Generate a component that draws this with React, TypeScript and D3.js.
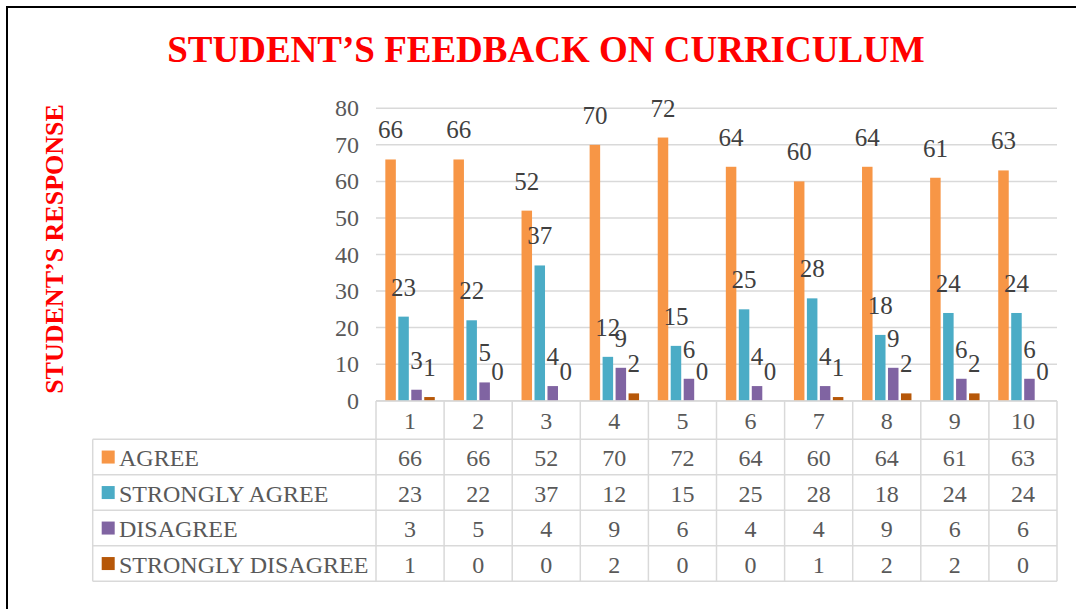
import React from "react";
import * as d3 from "d3";

const categories = ["1", "2", "3", "4", "5", "6", "7", "8", "9", "10"];
const seriesNames = ["AGREE", "STRONGLY AGREE", "DISAGREE", "STRONGLY DISAGREE"];
const agree = [66, 66, 52, 70, 72, 64, 60, 64, 61, 63];
const stronglyAgree = [23, 22, 37, 12, 15, 25, 28, 18, 24, 24];
const disagree = [3, 5, 4, 9, 6, 4, 4, 9, 6, 6];
const stronglyDisagree = [1, 0, 0, 2, 0, 0, 1, 2, 2, 0];
const seriesColors = ["#F79646", "#4BACC6", "#8064A2", "#B65708"];
const yTicks = [0, 10, 20, 30, 40, 50, 60, 70, 80];

const W = 1076;
const H = 609;
const FONT = "'Liberation Serif', 'Times New Roman', serif";
const TXT = "#595959";
const GRID = "#D9D9D9";

export default function App() {
  const values = [agree, stronglyAgree, disagree, stronglyDisagree];

  const plotLeft = 376;
  const plotRight = 1057;
  const x0 = d3.scaleBand<string>().domain(categories).range([plotLeft, plotRight]).padding(0);
  const bw = x0.bandwidth();
  const outer = bw * 0.137;
  const x1 = d3
    .scaleBand<number>()
    .domain(d3.range(seriesNames.length))
    .range([outer, bw - outer])
    .paddingInner(0.19)
    .paddingOuter(0);
  const y = d3.scaleLinear().domain([0, 80]).range([400.7, 108.3]);

  const tableTop = 401;
  const headerBottom = 439.3;
  const rowH = 35.5;
  const legendLeft = 92.7;
  const tableBottom = headerBottom + rowH * seriesNames.length;

  const colEdges = categories.map((c) => x0(c)!).concat([plotRight]);

  return (
    <svg
      width={W}
      height={H}
      style={{ position: "absolute", left: 0, top: 0, background: "#fff" }}
      fontFamily={FONT}
    >
      <rect x={0} y={0} width={W} height={H} fill="#fff" />
      <rect x={7} y={7} width={W + 50} height={H + 50} fill="none" stroke="#000" strokeWidth={2} />

      {/* title */}
      <text x={546} y={62} textAnchor="middle" fontSize={37} fontWeight="bold" fill="#FF0000">
        STUDENT’S FEEDBACK ON CURRICULUM
      </text>

      {/* y axis title */}
      <text
        transform={`translate(63,${249}) rotate(-90)`}
        textAnchor="middle"
        fontSize={26}
        fontWeight="bold"
        fill="#FF0000"
      >
        STUDENT’S RESPONSE
      </text>

      {/* gridlines */}
      {yTicks.map((t) => (
        <line key={t} x1={plotLeft} x2={plotRight} y1={y(t)} y2={y(t)} stroke={GRID} strokeWidth={1.5} />
      ))}
      {yTicks.map((t) => (
        <text key={"l" + t} x={359} y={y(t)} textAnchor="end" dominantBaseline="central" fontSize={24} fill={TXT}>
          {t}
        </text>
      ))}

      {/* bars */}
      {categories.map((c, ci) => (
        <g key={c} transform={`translate(${x0(c)},0)`}>
          {values.map((vals, si) => (
            <rect
              key={si}
              x={x1(si)!}
              y={y(vals[ci])}
              width={x1.bandwidth()}
              height={y(0) - y(vals[ci])}
              fill={seriesColors[si]}
            />
          ))}
        </g>
      ))}

      {/* data labels */}
      {categories.map((c, ci) => (
        <g key={"dl" + c} transform={`translate(${x0(c)},0)`}>
          {values.map((vals, si) => (
            <text
              key={si}
              x={x1(si)! + x1.bandwidth() / 2}
              y={y(vals[ci]) - 21}
              textAnchor="middle"
              fontSize={25}
              fill="#404040"
            >
              {vals[ci]}
            </text>
          ))}
        </g>
      ))}

      {/* table lines */}
      <g stroke={GRID} strokeWidth={1.5}>
        <line x1={plotLeft} x2={plotRight} y1={tableTop} y2={tableTop} />
        {d3.range(seriesNames.length + 1).map((i) => (
          <line
            key={"h" + i}
            x1={legendLeft}
            x2={plotRight}
            y1={headerBottom + rowH * i}
            y2={headerBottom + rowH * i}
          />
        ))}
        <line x1={legendLeft} x2={legendLeft} y1={headerBottom} y2={tableBottom} />
        {colEdges.map((xe, i) => (
          <line key={"v" + i} x1={xe} x2={xe} y1={tableTop} y2={tableBottom} />
        ))}
      </g>

      {/* header labels */}
      {categories.map((c) => (
        <text
          key={"hd" + c}
          x={x0(c)! + bw / 2}
          y={(tableTop + headerBottom) / 2 + 1}
          textAnchor="middle"
          dominantBaseline="central"
          fontSize={24}
          fill={TXT}
        >
          {c}
        </text>
      ))}

      {/* rows */}
      {seriesNames.map((name, si) => {
        const cy = headerBottom + rowH * si + rowH / 2;
        return (
          <g key={name}>
            <rect x={101.7} y={cy - 6.5} width={13} height={13} fill={seriesColors[si]} />
            <text x={119} y={cy + 1} dominantBaseline="central" fontSize={24} fill={TXT}>
              {name}
            </text>
            {categories.map((c, ci) => (
              <text
                key={c}
                x={x0(c)! + bw / 2}
                y={cy + 1}
                textAnchor="middle"
                dominantBaseline="central"
                fontSize={24}
                fill={TXT}
              >
                {values[si][ci]}
              </text>
            ))}
          </g>
        );
      })}
    </svg>
  );
}
